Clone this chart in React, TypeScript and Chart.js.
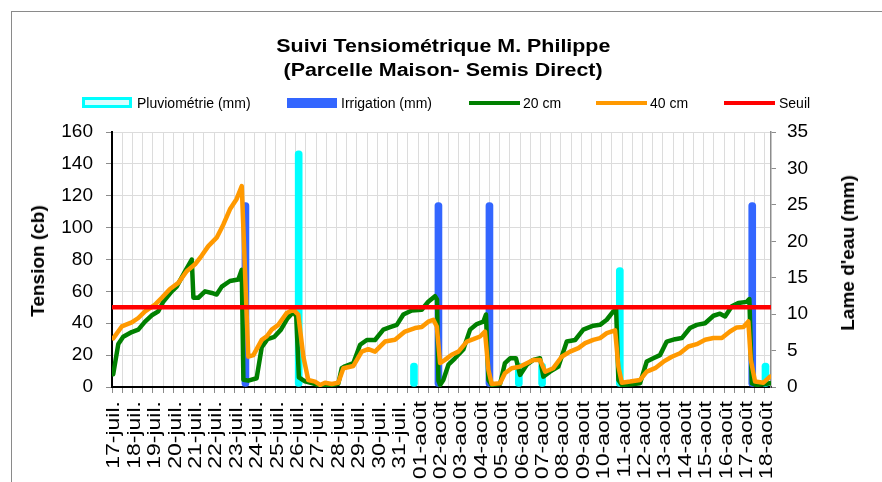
import React, { useEffect, useRef } from 'react';
import { Chart, registerables } from 'chart.js';

Chart.register(...registerables);

// ---------- DATA ----------
const dayLabels = [
  '17-juil.', '18-juil.', '19-juil.', '20-juil.', '21-juil.', '22-juil.', '23-juil.', '24-juil.',
  '25-juil.', '26-juil.', '27-juil.', '28-juil.', '29-juil.', '30-juil.', '31-juil.',
  '01-août', '02-août', '03-août', '04-août', '05-août', '06-août', '07-août', '08-août',
  '09-août', '10-août', '11-août', '12-août', '13-août', '14-août', '15-août', '16-août',
  '17-août', '18-août',
];

// time position in days since 17-juil.
const t20Days = [
  0.06, 0.31, 0.55, 0.97, 1.29, 1.62, 1.95, 2.27, 2.51, 2.93, 3.17, 3.58, 3.91, 3.99, 4.23, 4.56,
  4.89, 5.13, 5.38, 5.78, 6.19, 6.36, 6.44, 6.68, 7.09, 7.34, 7.62, 7.96, 8.28, 8.6, 8.89, 9.03,
  9.16, 9.46, 9.79, 10.2, 10.77, 11.09, 11.26, 11.42, 11.83, 12.16, 12.49, 12.89, 13.3, 13.63,
  13.96, 14.28, 14.69, 15.18, 15.5, 15.83, 15.93, 16.0, 16.08, 16.24, 16.49, 16.81, 17.22, 17.55,
  17.88, 18.2, 18.33, 18.45, 18.61, 19.02, 19.26, 19.51, 19.8, 20.0, 20.33, 20.65, 20.98, 21.14,
  21.47, 21.88, 22.29, 22.7, 23.1, 23.59, 23.92, 24.25, 24.57, 24.71, 24.82, 24.99, 25.48, 25.88,
  26.21, 26.53, 26.86, 27.19, 27.6, 27.93, 28.33, 28.66, 29.07, 29.48, 29.8, 30.05, 30.38, 30.7,
  31.11, 31.24, 31.36, 31.6, 32.25,
];
const t20Values = [
  8, 27, 31.5, 34.5, 36, 41, 45, 47.5, 53.5, 60, 63, 72.5, 80, 56, 56, 60,
  59, 58, 63, 66.5, 67.5, 73.5, 4.5, 4, 5.5, 25, 30, 31.5, 36, 43, 47, 44.5,
  6, 3.5, 2.5, 1, 1.2, 2, 11.8, 13, 15, 26.5, 29.5, 29.5, 36, 37.5,
  39, 45.5, 48, 48.5, 53.5, 57, 55, 4, 1.3, 4.4, 14, 18, 23.5, 36,
  39.5, 41, 45.5, 4.4, 1.3, 1.9, 15, 18, 18, 7.6, 14, 17, 18, 6.5,
  9.6, 12.8, 28.5, 29.5, 36, 38.5, 39, 42.2, 47.4, 48.5, 4.4, 1.3, 1.7, 2.3,
  16, 18, 20, 28.5, 30, 30.7, 37, 39, 40, 44.7, 46, 44.3, 50.6, 52.7,
  53.4, 55.2, 2.3, 1.3, 2.3,
];

const t40Days = [
  0.06, 0.48, 0.97, 1.29, 1.62, 2.11, 2.44, 2.84, 3.25, 3.66, 4.07, 4.4, 4.72, 5.13, 5.46, 5.78,
  6.11, 6.36, 6.68, 6.93, 7.34, 7.58, 7.83, 8.15, 8.56, 8.89, 9.13, 9.38, 9.62, 9.95, 10.2, 10.44,
  10.77, 11.09, 11.34, 11.83, 12.24, 12.56, 12.89, 13.38, 13.87, 14.36, 14.85, 15.18, 15.5, 15.75,
  15.92, 16.08, 16.32, 16.65, 16.98, 17.39, 17.71, 18.04, 18.28, 18.45, 18.61, 19.02, 19.26, 19.59,
  20.0, 20.33, 20.65, 20.98, 21.23, 21.63, 22.04, 22.45, 22.86, 23.19, 23.59, 23.92, 24.25, 24.66,
  24.82, 24.99, 25.39, 25.88, 26.21, 26.62, 27.03, 27.44, 27.84, 28.25, 28.66, 29.07, 29.48, 29.89,
  30.29, 30.62, 30.95, 31.19, 31.31, 31.52, 31.93, 32.25,
];
const t40Values = [
  30.5, 38, 40.5, 43.3, 47.4, 51.7, 56, 61.5, 65.3, 72.6, 77, 82.5, 88.4, 93.7, 102, 111.5,
  118, 126, 19, 20, 29.6, 31.7, 36, 39, 46.4, 48.5, 45.4, 19, 4.4, 3.4, 1.3, 2.7,
  1.9, 2.7, 11.8, 13.2, 22.2, 23.7, 22.2, 28.5, 29.6, 34.8, 37, 37.6, 41, 42.2,
  38, 15, 17, 20.2, 22.2, 28.5, 30, 31.7, 34.8, 10.7, 1.9, 2.3, 8.6, 11.8,
  12.8, 14.9, 17, 17, 9.6, 11.8, 19, 22.2, 24.4, 27.5, 29.6, 30.7, 33.8, 35.5,
  12.8, 2.7, 3.4, 4.4, 9.6, 11.8, 15.9, 19, 21.2, 25.4, 26.9, 29.6, 30.7, 30.7,
  34.8, 37.4, 37.6, 41.1, 17, 3.4, 2.7, 6.5,
];

const irrigationDays = [6.54, 16.0, 18.5, 31.38];
const irrigationMm = [25.3, 25.3, 25.3, 25.3];

const pluvioDays = [9.15, 14.8, 19.94, 21.08, 24.89, 32.03];
const pluvioMm = [32.4, 3.3, 3.3, 3.3, 16.4, 3.3];

const seuilValue = 50;
const seuilSpan = [0, 32.3];

const tensionTicks = { min: 0, max: 160, step: 20 };
const lameTicks = { min: 0, max: 35, step: 5 };

// ---------- CHART ----------
const FONT = '"Liberation Sans", Arial, Helvetica, sans-serif';

const xLabelsPlugin = {
  id: 'xDateLabels',
  afterDraw(chart: any) {
    const xs = chart.scales.x;
    const ctx = chart.ctx;
    ctx.save();
    ctx.fillStyle = '#000';
    ctx.font = `18px ${FONT}`;
    ctx.textAlign = 'right';
    ctx.textBaseline = 'middle';
    dayLabels.forEach((label, i) => {
      const px = xs.getPixelForValue(i);
      ctx.save();
      ctx.translate(px + 2.5, xs.top + 14);
      ctx.rotate(-Math.PI / 2);
      ctx.scale(1.28, 1);
      ctx.fillText(label, 0, 0);
      ctx.restore();
    });
    ctx.restore();
  },
};

export default function App() {
  const canvasRef = useRef<HTMLCanvasElement | null>(null);

  useEffect(() => {
    if (!canvasRef.current) return;
    Chart.defaults.font.family = FONT;
    const toXY = (xs: number[], ys: number[]) => xs.map((x, i) => ({ x, y: ys[i] }));

    const chart = new Chart(canvasRef.current, {
      type: 'line',
      data: {
        datasets: [
          {
            type: 'line',
            label: 'Seuil',
            data: seuilSpan.map((x) => ({ x, y: seuilValue })),
            borderColor: '#FF0000',
            borderWidth: 4.5,
            pointRadius: 0,
            yAxisID: 'y',
            order: 0,
          },
          {
            type: 'line',
            label: '40 cm',
            data: toXY(t40Days, t40Values),
            borderColor: '#FF9900',
            borderWidth: 4.5,
            pointRadius: 0,
            borderJoinStyle: 'round',
            borderCapStyle: 'round',
            yAxisID: 'y',
            order: 1,
          },
          {
            type: 'line',
            label: '20 cm',
            data: toXY(t20Days, t20Values),
            borderColor: '#008000',
            borderWidth: 4.5,
            pointRadius: 0,
            borderJoinStyle: 'round',
            borderCapStyle: 'round',
            yAxisID: 'y',
            order: 2,
          },
          {
            type: 'bar',
            label: 'Irrigation (mm)',
            data: toXY(irrigationDays, irrigationMm),
            backgroundColor: '#3366FF',
            barThickness: 7,
            borderRadius: 3.5,
            borderSkipped: false,
            grouped: false,
            yAxisID: 'y2',
            order: 3,
          },
          {
            type: 'bar',
            label: 'Pluviométrie (mm)',
            data: toXY(pluvioDays, pluvioMm),
            backgroundColor: '#00FFFF',
            barThickness: 7,
            borderRadius: 3.5,
            borderSkipped: false,
            grouped: false,
            yAxisID: 'y2',
            order: 4,
          },
        ] as any,
      },
      options: {
        responsive: false,
        animation: false,
        devicePixelRatio: 1,
        layout: { padding: { top: 132, left: 0, right: 0, bottom: 0 } },
        plugins: {
          legend: { display: false },
          title: { display: false },
          tooltip: { enabled: false },
        },
        scales: {
          x: {
            type: 'linear',
            min: 0,
            max: 32.3,
            offset: false,
            ticks: { stepSize: 0.5, includeBounds: false, display: false, autoSkip: false },
            grid: { color: '#dcdcdc', offset: false, tickLength: 6, tickColor: '#8c8c8c' },
            border: { color: '#000', width: 2 },
            afterFit: (s: any) => { s.height = 95; },
          },
          y: {
            type: 'linear',
            position: 'left',
            min: tensionTicks.min,
            max: tensionTicks.max,
            ticks: { stepSize: tensionTicks.step, color: '#000', font: { size: 19 }, padding: 13 },
            grid: { color: '#dcdcdc', tickLength: 6, tickColor: '#8c8c8c' },
            border: { color: '#000', width: 2 },
            afterFit: (s: any) => { s.width = 112; },
          },
          y2: {
            type: 'linear',
            position: 'right',
            min: lameTicks.min,
            max: lameTicks.max,
            ticks: { stepSize: lameTicks.step, color: '#000', font: { size: 19 }, padding: 11 },
            grid: { drawOnChartArea: false, tickLength: 5, tickColor: '#8c8c8c' },
            border: { color: '#8c8c8c', width: 1.5 },
            afterFit: (s: any) => { s.width = 111; },
          },
        },
      } as any,
      plugins: [xLabelsPlugin],
    });
    return () => chart.destroy();
  }, []);

  const legendText: React.CSSProperties = {
    position: 'absolute', top: 95, fontSize: 14, lineHeight: '16px', color: '#000', whiteSpace: 'nowrap',
  };
  const titleLine: React.CSSProperties = {
    position: 'absolute', left: 4, width: 878, textAlign: 'center', fontSize: 18, fontWeight: 'bold',
    lineHeight: '24px', whiteSpace: 'nowrap',
  };
  const stretch: React.CSSProperties = { display: 'inline-block', transform: 'scaleX(1.19)', transformOrigin: 'center' };
  const axisTitle: React.CSSProperties = {
    position: 'absolute', fontSize: 19, fontWeight: 'bold', whiteSpace: 'nowrap',
    transform: 'translate(-50%, -50%) rotate(-90deg)', lineHeight: '22px',
  };

  return (
    <div style={{ position: 'absolute', left: 0, top: 0, width: 882, height: 482, background: '#fff', overflow: 'hidden', fontFamily: FONT }}>
      <div style={{ position: 'absolute', left: 11, top: 11, right: 0, bottom: 0, borderTop: '1px solid #8a8a8a', borderLeft: '1px solid #8a8a8a' }} />
      <canvas ref={canvasRef} width={882} height={482} style={{ position: 'absolute', left: 0, top: 0, width: 882, height: 482 }} />

      <div style={{ ...titleLine, top: 34 }}><span style={stretch}>Suivi Tensiométrique M. Philippe</span></div>
      <div style={{ ...titleLine, top: 58 }}><span style={stretch}>(Parcelle Maison- Semis Direct)</span></div>

      <div style={{ position: 'absolute', left: 82, top: 97, width: 50, height: 11, boxSizing: 'border-box', border: '3px solid #00FFFF', background: '#d8ffff' }} />
      <div style={{ ...legendText, left: 137 }}>Pluviométrie (mm)</div>
      <div style={{ position: 'absolute', left: 287, top: 97.5, width: 50, height: 10.5, background: '#3366FF' }} />
      <div style={{ ...legendText, left: 341 }}>Irrigation (mm)</div>
      <div style={{ position: 'absolute', left: 469, top: 101, width: 51, height: 4, background: '#008000' }} />
      <div style={{ ...legendText, left: 523 }}>20 cm</div>
      <div style={{ position: 'absolute', left: 596, top: 101, width: 51, height: 4, background: '#FF9900' }} />
      <div style={{ ...legendText, left: 650 }}>40 cm</div>
      <div style={{ position: 'absolute', left: 724, top: 101, width: 51, height: 4, background: '#FF0000' }} />
      <div style={{ ...legendText, left: 779 }}>Seuil</div>

      <div style={{ ...axisTitle, left: 37.5, top: 261 }}>Tension (cb)</div>
      <div style={{ ...axisTitle, left: 848, top: 253 }}>Lame d'eau (mm)</div>
    </div>
  );
}
